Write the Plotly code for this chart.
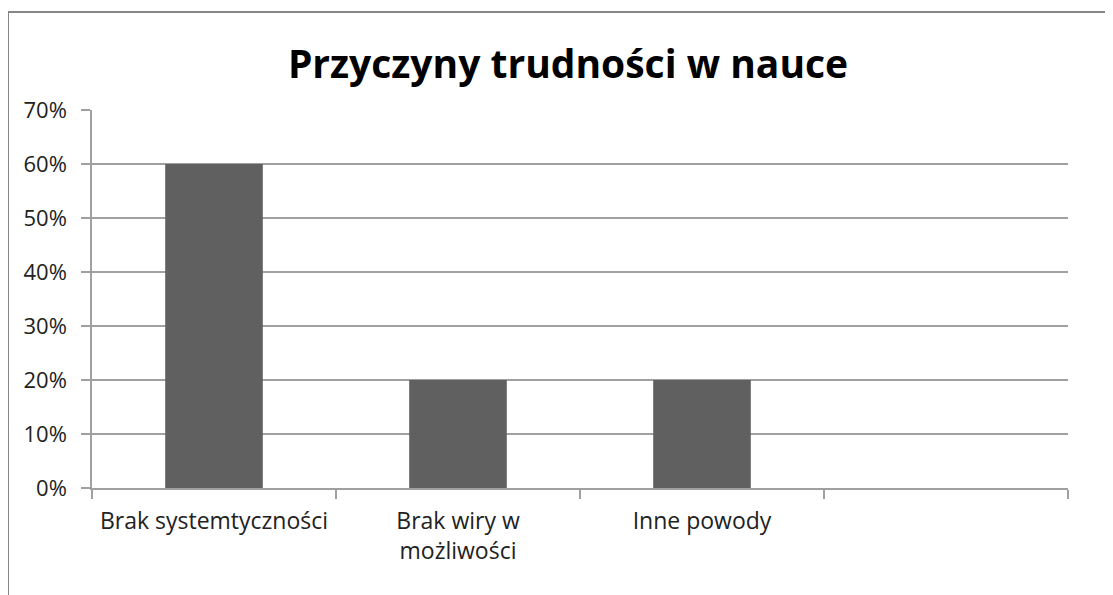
import plotly.graph_objects as go

categories = ["Brak systemtyczności", "Brak wiry w<br>możliwości", "Inne powody", " "]
values = [0.60, 0.20, 0.20, None]
y_ticks = [0, 0.1, 0.2, 0.3, 0.4, 0.5, 0.6, 0.7]
title_text = "Przyczyny trudności w nauce"

fig = go.Figure(go.Bar(x=categories, y=values, marker=dict(color="#606060", line=dict(width=0)), width=0.4))

# page body has an 8px margin, so figure origin is at (8, 8) on screen
OFF = 8
W, H = 1113 - OFF, 595 - OFF
L, T = 92 - OFF, 110 - OFF
pw, ph = 976, 378
R, B = W - L - pw, H - T - ph

fig.update_layout(
    width=W, height=H,
    margin=dict(l=L, r=R, t=T, b=B, autoexpand=False),
    paper_bgcolor="white", plot_bgcolor="white",
    showlegend=False,
    font=dict(family="Open Sans, sans-serif", size=22, color="#222222"),
    title=dict(text="<b>" + title_text + "</b>", x=(568 - OFF) / W, xanchor="center", y=1 - (64 - OFF) / H,
               yanchor="middle", font=dict(size=39, color="#000000", family="Open Sans, sans-serif")),
    xaxis=dict(type="category", categoryarray=categories, range=[-0.5, 3.5],
               tickson="boundaries", ticks="outside", ticklen=9, tickcolor="#a0a0a0", tickwidth=1.5,
               showgrid=False, showline=True, linecolor="#a0a0a0", linewidth=1.5,
               ticklabelstandoff=12, tickfont=dict(size=23, color="#222222")),
    yaxis=dict(range=[0, 0.7], tickvals=y_ticks, tickformat=".0%", ticks="outside", ticklen=9,
               tickcolor="#a0a0a0", tickwidth=1.5, showgrid=True, gridcolor="#a0a0a0", gridwidth=1.5,
               showline=True, linecolor="#a0a0a0", linewidth=1.5, zeroline=False,
               ticklabelstandoff=10, tickfont=dict(size=22, color="#222222")),
    shapes=[dict(type="rect", xref="paper", yref="paper",
                 x0=(0 - L) / pw, x1=(W + 20 - L) / pw,
                 y0=-(H + 20 - T - ph) / ph, y1=(ph + T - 4) / ph,
                 line=dict(color="#868686", width=2), fillcolor="rgba(0,0,0,0)", layer="below")],
)

fig.write_html("out.html")
